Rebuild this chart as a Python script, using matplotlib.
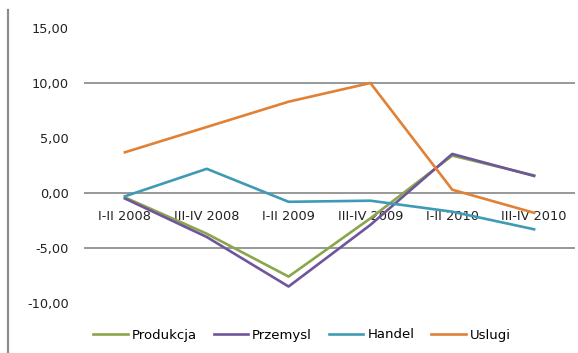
import matplotlib.pyplot as plt
from matplotlib.lines import Line2D

periods = ["I-II 2008", "III-IV 2008", "I-II 2009", "III-IV 2009", "I-II 2010", "III-IV 2010"]
produkcja = [-0.4, -3.7, -7.6, -2.3, 3.4, 1.6]
przemysl = [-0.5, -4.0, -8.5, -2.9, 3.55, 1.55]
handel = [-0.3, 2.2, -0.8, -0.7, -1.7, -3.3]
uslugi = [3.7, 6.0, 8.3, 10.0, 0.3, -1.8]

series = [
    ("Produkcja", produkcja, "#8aa64a"),
    ("Przemysl", przemysl, "#6f559b"),
    ("Handel", handel, "#3f9ab4"),
    ("Uslugi", uslugi, "#e08136"),
]

fig = plt.figure(figsize=(5.78, 3.53), dpi=100)
ax = fig.add_axes([84 / 578, 1 - 303 / 353, 491 / 578, 275 / 353])

x = range(len(periods))
for name, vals, col in series:
    ax.plot(x, vals, color=col, lw=1.9, label=name, zorder=3)

ax.set_xlim(-0.5, len(periods) - 0.5)
ax.set_ylim(-10, 15)
ax.set_yticks([-10, -5, 0, 5, 10, 15])
ax.set_yticklabels([f"{v:.2f}".replace(".", ",") for v in [-10, -5, 0, 5, 10, 15]])

# only a few horizontal gridlines are drawn
for g in [10, 0, -5]:
    ax.axhline(g, color="#868686", lw=1.2, zorder=1)

for s in ax.spines.values():
    s.set_visible(False)
ax.spines["bottom"].set_position(("data", 0))
ax.set_xticks(list(x))
ax.set_xticklabels(periods)
ax.tick_params(axis="x", length=0, pad=12, labelsize=9.3, labelcolor="#222222")
ax.tick_params(axis="y", length=0, pad=11, labelsize=9.3, labelcolor="#222222")

# left border of the chart area
fig.add_artist(Line2D([8 / 578, 8 / 578], [0, 1 - 10 / 353], color="#8c8c8c", lw=1.6))

fig.legend(loc="center", bbox_to_anchor=(302 / 578, 1 - 335 / 353), ncol=4,
           frameon=False, fontsize=9.5, handlelength=2.6, handletextpad=0.3,
           columnspacing=1.3)

fig.savefig("out.png", dpi=100)
